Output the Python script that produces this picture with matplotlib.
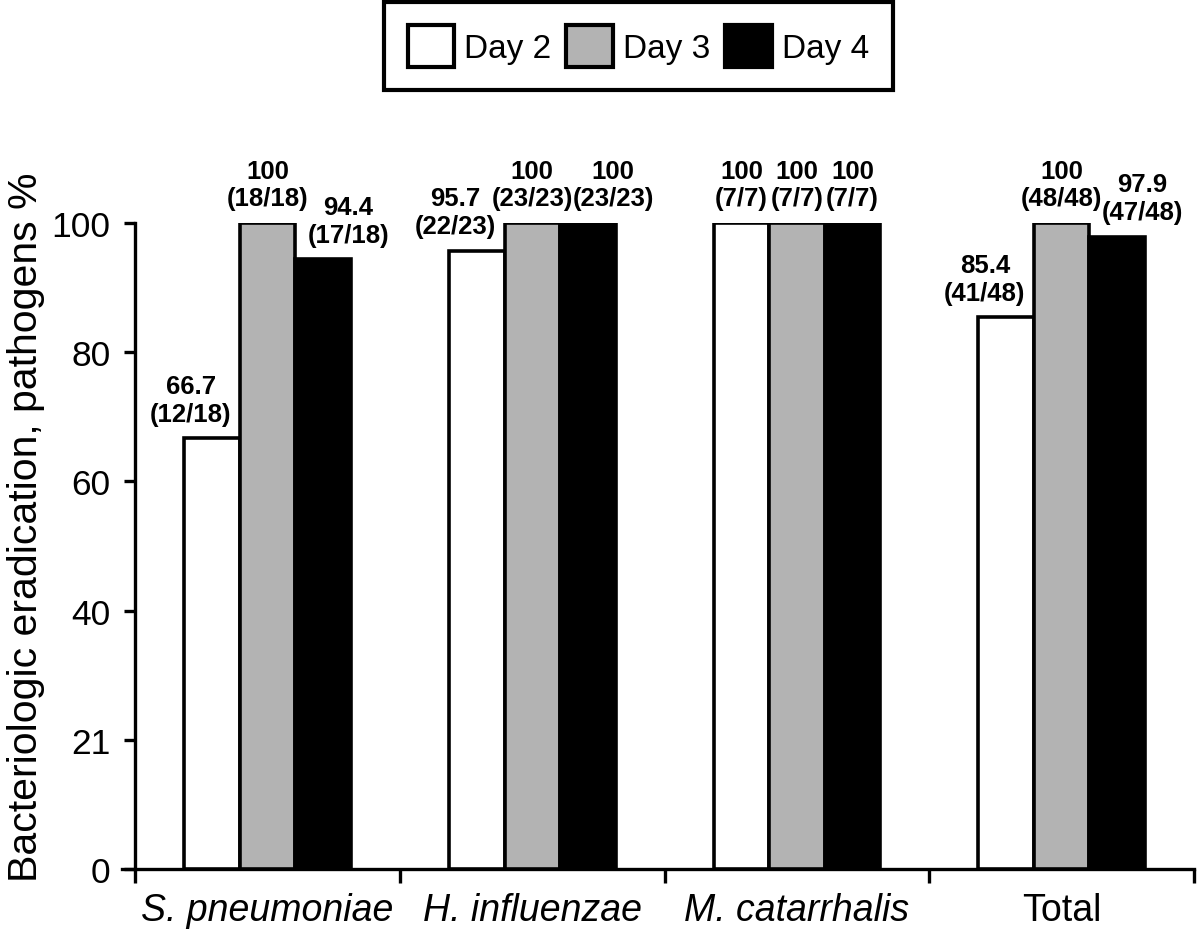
import matplotlib
matplotlib.use('Agg')
import matplotlib.pyplot as plt
import matplotlib.patches as mpatches
import numpy as np

plt.rcParams['font.family'] = ['Liberation Sans', 'DejaVu Sans']

# ===== data =====
categories = ['S. pneumoniae', 'H. influenzae', 'M. catarrhalis', 'Total']
italic_cat = [True, True, True, False]
days = ['Day 2', 'Day 3', 'Day 4']
day2 = [66.7, 95.7, 100, 85.4]
day3 = [100, 100, 100, 100]
day4 = [94.4, 100, 100, 97.9]
day2_n = ['(12/18)', '(22/23)', '(7/7)', '(41/48)']
day3_n = ['(18/18)', '(23/23)', '(7/7)', '(48/48)']
day4_n = ['(17/18)', '(23/23)', '(7/7)', '(47/48)']
ytick_vals = [0, 20, 40, 60, 80, 100]
ytick_labels = ['0', '21', '40', '60', '80', '100']

colors = ['white', '#b3b3b3', 'black']

fig = plt.figure(figsize=(12, 9.53), dpi=100)
fig.patch.set_facecolor('white')
ax = fig.add_axes([0.1017, 0.087, 0.8933, 0.678])

# spine position first: it resets the ticks
for s in ['top', 'right']:
    ax.spines[s].set_visible(False)
ax.spines['left'].set_position(('data', -0.5))
ax.spines['left'].set_bounds(0, 100)
ax.spines['left'].set_linewidth(2.4)
ax.spines['bottom'].set_linewidth(2.4)

x = np.arange(len(categories))
w = 0.21
series = [day2, day3, day4]
counts = [day2_n, day3_n, day4_n]
shift = [-0.08, 0.0, 0.095]   # nudge side labels away from each other

for i, (vals, ns) in enumerate(zip(series, counts)):
    pos = x + (i - 1) * w
    ax.bar(pos, vals, width=w, color=colors[i], edgecolor='black',
           linewidth=2.6, zorder=3)
    for p, v, n in zip(pos, vals, ns):
        lbl = f'{v:g}\n{n}'
        dx = shift[i] if len(n) > 5 else 0.0
        ax.annotate(lbl, xy=(p + dx, v), xytext=(0, 9), textcoords='offset points',
                    ha='center', va='bottom', fontsize=18.5, fontweight='bold',
                    linespacing=1.2, annotation_clip=False)

ax.set_ylim(0, 100)
ax.set_xlim(-0.55, 3.5)
ax.set_yticks(ytick_vals)
ax.set_yticklabels(ytick_labels)
ax.set_xticks([-0.5, 0.5, 1.5, 2.5, 3.5])
ax.set_xticklabels([])
ax.tick_params(axis='x', direction='out', length=10, width=2.4)
ax.tick_params(axis='y', direction='out', length=8, width=2.4, pad=10,
               labelsize=25.5)

for xi, c, it in zip(x, categories, italic_cat):
    ax.text(xi, -0.035, c, transform=ax.get_xaxis_transform(), ha='center',
            va='top', fontsize=27, style='italic' if it else 'normal')

ax.set_ylabel('Bacteriologic eradication, pathogens %', fontsize=29.5)
ax.yaxis.set_label_coords(-0.072, 0.531)

handles = [mpatches.Patch(facecolor=colors[i], edgecolor='black', linewidth=3,
                          label=days[i]) for i in range(3)]
leg = fig.legend(handles=handles, loc='upper center', bbox_to_anchor=(0.532, 0.997),
                 ncol=3, fontsize=24, frameon=True, fancybox=False, framealpha=1,
                 handlelength=1.4, handleheight=1.55, handletextpad=0.3,
                 columnspacing=0.45, borderpad=0.7, borderaxespad=0)
leg.get_frame().set_edgecolor('black')
leg.get_frame().set_linewidth(3)

fig.savefig('out.png', dpi=100, facecolor='white')
